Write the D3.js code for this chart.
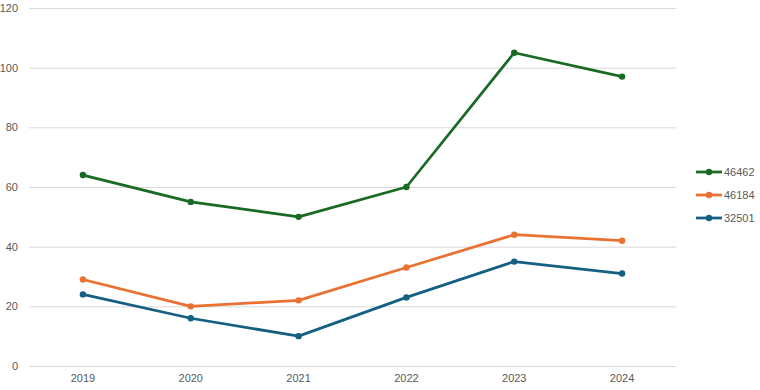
<!DOCTYPE html>
<html><head><meta charset="utf-8">
<script src="https://cdn.jsdelivr.net/npm/d3@7"></script>
<style>body{margin:0;background:#fff;}svg{display:block;font-family:"Liberation Sans",Arial,sans-serif;}</style>
</head><body><svg id="c" width="760" height="390"></svg>
<script>
const categories = ["2019","2020","2021","2022","2023","2024"];
const seriesNames = ["46462","46184","32501"];
const s46462 = [64,55,50,60,105,97];
const s46184 = [29,20,22,33,44,42];
const s32501 = [24,16,10,23,35,31];
const yTicks = [0,20,40,60,80,100,120];
const colors = ["#196B24","#E97132","#156082"];
const series = [s46462, s46184, s32501];

const svg = d3.select("#c");
const x = d3.scaleBand().domain(categories).range([29,676]);
const y = d3.scaleLinear().domain([0,120]).range([366,8]);

const grid = svg.append("g");
grid.selectAll("line").data(yTicks).join("line")
  .attr("x1",29).attr("x2",676)
  .attr("y1",d=>y(d)+0.5).attr("y2",d=>y(d)+0.5)
  .attr("stroke","#d9d9d9").attr("stroke-width",1);

const yAxis = svg.append("g").attr("transform","translate(18,0)")
  .call(d3.axisLeft(y).tickValues(yTicks).tickSize(0).tickPadding(0));
yAxis.select(".domain").remove();
yAxis.selectAll("text").attr("fill","#595959").style("font-size","11px");

const xAxis = svg.append("g").attr("transform","translate(0,374)")
  .call(d3.axisBottom(x).tickSize(0).tickPadding(0));
xAxis.select(".domain").remove();
xAxis.selectAll("text").attr("fill","#595959").style("font-size","11px").attr("dy","0.71em");

const line = d3.line().x((d,i)=>x(categories[i])+x.bandwidth()/2).y(d=>y(d));
series.forEach((s,k)=>{
  svg.append("path").datum(s).attr("d",line).attr("fill","none")
    .attr("stroke",colors[k]).attr("stroke-width",2.75).attr("stroke-linejoin","round");
  svg.append("g").selectAll("circle").data(s).join("circle")
    .attr("cx",(d,i)=>x(categories[i])+x.bandwidth()/2).attr("cy",d=>y(d))
    .attr("r",3.2).attr("fill",colors[k]);
});

const leg = svg.append("g");
seriesNames.forEach((n,k)=>{
  const yy = 172 + k*23;
  leg.append("line").attr("x1",696).attr("x2",722).attr("y1",yy).attr("y2",yy)
    .attr("stroke",colors[k]).attr("stroke-width",2.75);
  leg.append("circle").attr("cx",709).attr("cy",yy).attr("r",3.2).attr("fill",colors[k]);
  leg.append("text").attr("x",724).attr("y",yy).attr("dy","0.35em")
    .attr("fill","#595959").style("font-size","11px").text(n);
});
</script></body></html>
